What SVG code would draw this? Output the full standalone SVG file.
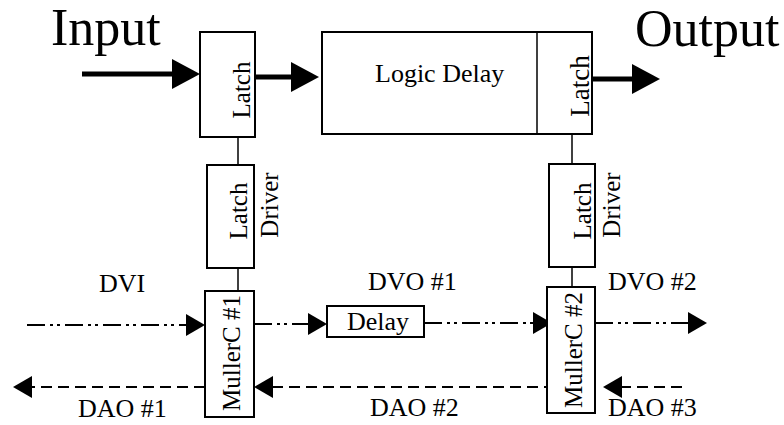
<svg xmlns="http://www.w3.org/2000/svg" width="784" height="425" viewBox="0 0 784 425">
  <style>
    .box { fill: #fff; stroke: #000; stroke-width: 2; }
    .t { font-family: "Liberation Serif", "Times New Roman", serif; fill: #000; }
    .big { font-size: 52px; }
    .lbl { font-size: 26px; }
    .rot { font-size: 25px; text-anchor: middle; }
    .thick { stroke: #000; stroke-width: 5; fill: none; }
    .thin { stroke: #000; stroke-width: 1.5; fill: none; }
    .dv { stroke: #000; stroke-width: 2; fill: none; stroke-dasharray: 18 5 3 4 3 5; }
    .da { stroke: #000; stroke-width: 2; fill: none; stroke-dasharray: 11 6; }
  </style>
  <defs>
    <marker id="bigHead" markerUnits="userSpaceOnUse" markerWidth="28" markerHeight="30" refX="0" refY="15" orient="auto" viewBox="0 0 28 30">
      <path d="M0,0 L28,15 L0,30 z" fill="#000"/>
    </marker>
    <marker id="smallHead" markerUnits="userSpaceOnUse" markerWidth="19" markerHeight="22" refX="0" refY="11" orient="auto" viewBox="0 0 19 22">
      <path d="M0,0 L19,11 L0,22 z" fill="#000"/>
    </marker>
  </defs>

  <text class="t big" x="51" y="45">Input</text>
  <text class="t big" x="635" y="46">Output</text>

  <g id="connectors">
    <line class="thick" x1="82" y1="74" x2="172" y2="74" marker-end="url(#bigHead)"/>
    <line class="thick" x1="255" y1="77" x2="291" y2="77" marker-end="url(#bigHead)"/>
    <line class="thick" x1="592" y1="79" x2="632" y2="79" marker-end="url(#bigHead)"/>
    <line class="thin" x1="238" y1="137" x2="238" y2="165"/>
    <line class="thin" x1="238" y1="268" x2="238" y2="291"/>
    <line class="thin" x1="572" y1="134" x2="572" y2="164"/>
    <line class="thin" x1="572" y1="267" x2="572" y2="292"/>
    <line class="dv" x1="27" y1="325" x2="186" y2="325" marker-end="url(#smallHead)"/>
    <line class="dv" x1="254" y1="324" x2="308" y2="324" marker-end="url(#smallHead)"/>
    <line class="dv" x1="424" y1="323" x2="533" y2="323" marker-end="url(#smallHead)"/>
    <line class="dv" x1="595" y1="323" x2="688" y2="323" marker-end="url(#smallHead)"/>
    <line class="da" x1="682" y1="387" x2="622" y2="387" marker-end="url(#smallHead)"/>
    <line class="da" x1="555" y1="387" x2="273" y2="387" marker-end="url(#smallHead)"/>
    <line class="da" x1="205" y1="387" x2="32" y2="387" marker-end="url(#smallHead)"/>
  </g>

  <g id="latch-in">
    <rect class="box" x="200" y="32" width="55" height="105"/>
    <text class="t rot" transform="translate(250,90) rotate(-90)">Latch</text>
  </g>

  <g id="logic-delay">
    <rect class="box" x="322" y="32" width="270" height="102"/>
    <text class="t lbl" x="375" y="82">Logic Delay</text>
  </g>

  <g id="latch-out">
    <line x1="537" y1="32" x2="537" y2="134" stroke="#000" stroke-width="1.5"/>
    <text class="t rot" style="font-size:27px" transform="translate(589,86) rotate(-90)">Latch</text>
  </g>

  <g id="latch-driver-1">
    <rect class="box" x="207" y="165" width="47" height="103"/>
    <text class="t rot" transform="translate(247,211) rotate(-90)">Latch</text>
    <text class="t rot" transform="translate(278,205) rotate(-90)">Driver</text>
  </g>

  <g id="latch-driver-2">
    <rect class="box" x="549" y="164" width="46" height="103"/>
    <text class="t rot" transform="translate(591,211) rotate(-90)">Latch</text>
    <text class="t rot" transform="translate(620,205) rotate(-90)">Driver</text>
  </g>

  <g id="mullerc-1">
    <rect class="box" x="205" y="291" width="49" height="126"/>
    <text class="t rot" transform="translate(240,353) rotate(-90)">MullerC #1</text>
  </g>

  <g id="mullerc-2">
    <rect class="box" x="547" y="287" width="48" height="126"/>
    <text class="t rot" transform="translate(582,350) rotate(-90)">MullerC #2</text>
  </g>

  <g id="delay">
    <rect class="box" x="327" y="306" width="97" height="31"/>
    <text class="t lbl" x="347" y="330">Delay</text>
  </g>

  <g id="labels">
    <text class="t lbl" x="99" y="292">DVI</text>
    <text class="t lbl" x="368" y="290">DVO #1</text>
    <text class="t lbl" x="608" y="290">DVO #2</text>
    <text class="t lbl" x="78" y="417">DAO #1</text>
    <text class="t lbl" x="370" y="416">DAO #2</text>
    <text class="t lbl" x="608" y="416">DAO #3</text>
  </g>
</svg>
